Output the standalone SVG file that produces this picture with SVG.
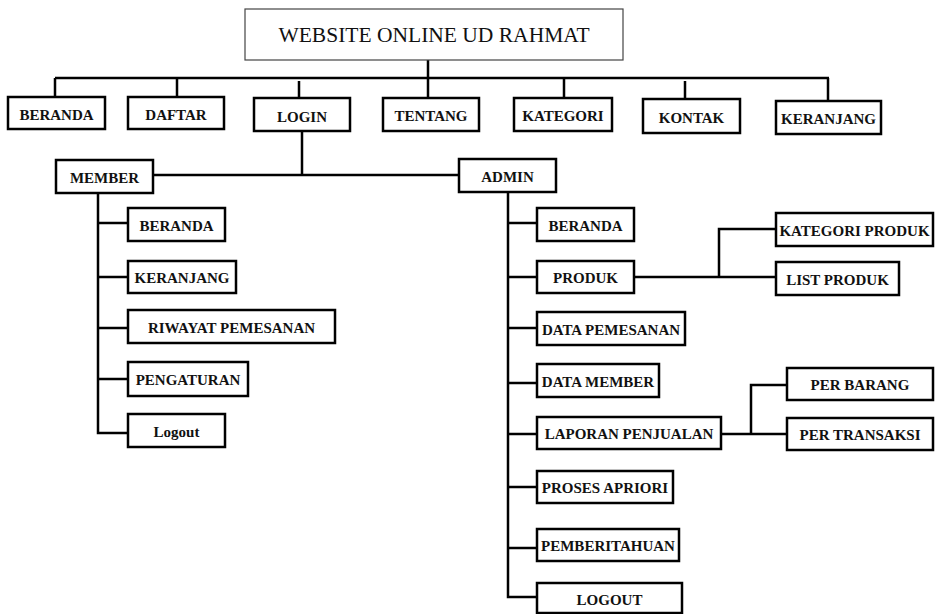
<svg xmlns="http://www.w3.org/2000/svg" width="935" height="614" viewBox="0 0 935 614">
<style>
.b{fill:#fff;stroke:#000;stroke-width:2.5}
.t{fill:#fff;stroke:#444;stroke-width:1.2}
text{font-family:"Liberation Serif","Times New Roman",serif;fill:#111;text-anchor:middle}
.l{font-size:15px;font-weight:bold}
.h{font-size:21.5px}
.c{fill:none;stroke:#000;stroke-width:2.5}
</style>
<rect width="935" height="614" fill="#fff"/>
<g id="connectors">
<path class="c" d="M428 60V78M55 78H829M55 78V97M177 78V97M299 81V97M428 78V98M564 78V98M685 81V99M828 78V101"/>
<path class="c" d="M302 131V175M153 175H459"/>
<path class="c" d="M98 193V433H128M98 223H128M98 277H128M98 328H128M98 379H128"/>
<path class="c" d="M508 192V597H537M508 223H537M508 277H537M508 328H537M508 383H537M508 434H537M508 487H537M508 548H537"/>
<path class="c" d="M634 277H776M719 277V229H776"/>
<path class="c" d="M721 434H787M751 434V385H787"/>
</g>
<g id="n-root"><rect class="t" x="245" y="9" width="378" height="51"/><text class="h" x="434" y="42">WEBSITE ONLINE UD RAHMAT</text></g>
<g id="n-beranda"><rect class="b" x="8" y="97" width="97" height="32"/><text class="l" x="56.5" y="119.5">BERANDA</text></g>
<g id="n-daftar"><rect class="b" x="128" y="97" width="96" height="32"/><text class="l" x="176" y="119.5">DAFTAR</text></g>
<g id="n-login"><rect class="b" x="254" y="98" width="96" height="33"/><text class="l" x="302" y="121.5">LOGIN</text></g>
<g id="n-tentang"><rect class="b" x="383" y="98" width="96" height="33"/><text class="l" x="431" y="121">TENTANG</text></g>
<g id="n-kategori"><rect class="b" x="514" y="98" width="98" height="33"/><text class="l" x="563" y="121">KATEGORI</text></g>
<g id="n-kontak"><rect class="b" x="643" y="99" width="97" height="34"/><text class="l" x="691.5" y="122.5">KONTAK</text></g>
<g id="n-keranjang"><rect class="b" x="776" y="101" width="105" height="33"/><text class="l" x="828.5" y="124">KERANJANG</text></g>
<g id="n-member"><rect class="b" x="56" y="160" width="97" height="33"/><text class="l" x="104.5" y="182.5">MEMBER</text></g>
<g id="n-admin"><rect class="b" x="459" y="159" width="97" height="33"/><text class="l" x="507.5" y="181.5">ADMIN</text></g>
<g id="n-m-beranda"><rect class="b" x="128" y="208" width="97" height="33"/><text class="l" x="176.5" y="230.5">BERANDA</text></g>
<g id="n-m-keranjang"><rect class="b" x="128" y="261" width="108" height="32"/><text class="l" x="182" y="283">KERANJANG</text></g>
<g id="n-m-riwayat"><rect class="b" x="128" y="310" width="207" height="33"/><text class="l" x="231.5" y="332.5">RIWAYAT PEMESANAN</text></g>
<g id="n-m-pengaturan"><rect class="b" x="128" y="362" width="120" height="34"/><text class="l" x="188" y="385">PENGATURAN</text></g>
<g id="n-m-logout"><rect class="b" x="128" y="414" width="97" height="33"/><text class="l" x="176.5" y="436.5">Logout</text></g>
<g id="n-a-beranda"><rect class="b" x="537" y="208" width="97" height="33"/><text class="l" x="585.5" y="230.5">BERANDA</text></g>
<g id="n-a-produk"><rect class="b" x="537" y="261" width="97" height="32"/><text class="l" x="585.5" y="283">PRODUK</text></g>
<g id="n-kat-produk"><rect class="b" x="776" y="213" width="157" height="33"/><text class="l" x="854.5" y="235.5">KATEGORI PRODUK</text></g>
<g id="n-list-produk"><rect class="b" x="776" y="262" width="123" height="33"/><text class="l" x="837.5" y="284.5">LIST PRODUK</text></g>
<g id="n-data-pemesanan"><rect class="b" x="537" y="312" width="148" height="33"/><text class="l" x="611" y="334.5">DATA PEMESANAN</text></g>
<g id="n-data-member"><rect class="b" x="537" y="364" width="122" height="33"/><text class="l" x="598" y="386.5">DATA MEMBER</text></g>
<g id="n-laporan"><rect class="b" x="537" y="417" width="184" height="32"/><text class="l" x="629" y="439">LAPORAN PENJUALAN</text></g>
<g id="n-per-barang"><rect class="b" x="787" y="368" width="146" height="32"/><text class="l" x="860" y="390">PER BARANG</text></g>
<g id="n-per-transaksi"><rect class="b" x="787" y="418" width="146" height="32"/><text class="l" x="860" y="440">PER TRANSAKSI</text></g>
<g id="n-apriori"><rect class="b" x="537" y="471" width="136" height="32"/><text class="l" x="605" y="493">PROSES APRIORI</text></g>
<g id="n-pemberitahuan"><rect class="b" x="537" y="529" width="142" height="32"/><text class="l" x="608" y="551">PEMBERITAHUAN</text></g>
<g id="n-a-logout"><rect class="b" x="537" y="583" width="145" height="30"/><text class="l" x="609.5" y="604.5">LOGOUT</text></g>
</svg>
